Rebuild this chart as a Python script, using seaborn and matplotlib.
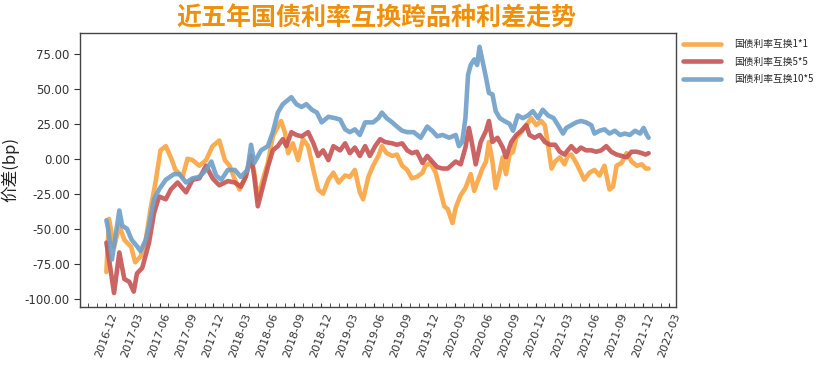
import pandas as pd
import seaborn as sns
import matplotlib.pyplot as plt
import matplotlib.dates as mdates
from matplotlib.ticker import FormatStrFormatter

# values (bp)
names = ['国债利率互换1*1', '国债利率互换5*5', '国债利率互换10*5']
colors = ['#F9A43F', '#C65353', '#6F9FC9']

orange_dates = ['2016-12-02', '2016-12-11', '2016-12-28',
                '2017-01-15', '2017-02-01', '2017-02-24', '2017-03-10', '2017-03-28', '2017-04-15', '2017-05-01',
                '2017-05-18', '2017-06-04', '2017-06-22', '2017-07-09', '2017-07-25', '2017-08-18', '2017-09-04',
                '2017-09-21', '2017-10-14', '2017-11-06', '2017-11-28', '2017-12-21',
                '2018-01-09', '2018-01-25', '2018-02-12', '2018-02-28', '2018-03-16', '2018-04-08', '2018-04-19',
                '2018-05-01', '2018-05-18', '2018-06-04', '2018-06-21', '2018-07-08', '2018-07-19', '2018-08-01',
                '2018-08-12', '2018-08-28', '2018-09-15', '2018-10-02', '2018-10-19', '2018-11-06', '2018-11-22',
                '2018-12-09', '2018-12-27',
                '2019-01-13', '2019-01-31', '2019-02-22', '2019-03-10', '2019-03-27', '2019-04-13', '2019-04-24',
                '2019-05-12', '2019-05-28', '2019-06-15', '2019-06-27', '2019-07-13', '2019-08-01', '2019-08-17',
                '2019-09-04', '2019-09-21', '2019-10-07', '2019-10-24', '2019-11-12', '2019-11-22', '2019-12-09',
                '2019-12-27',
                '2020-01-13', '2020-01-25', '2020-02-06', '2020-02-22', '2020-03-04', '2020-03-21', '2020-04-06',
                '2020-04-24', '2020-05-06', '2020-05-16', '2020-06-03', '2020-06-15', '2020-06-25', '2020-07-07',
                '2020-07-18', '2020-08-01', '2020-08-11', '2020-08-22', '2020-09-03', '2020-09-15', '2020-09-26',
                '2020-10-13', '2020-10-30', '2020-11-16', '2020-12-03', '2020-12-20',
                '2021-01-01', '2021-01-12', '2021-01-24', '2021-02-05', '2021-02-21', '2021-03-09', '2021-03-20',
                '2021-04-01', '2021-04-18', '2021-05-04', '2021-05-15', '2021-06-02', '2021-06-19', '2021-07-06',
                '2021-07-23', '2021-08-09', '2021-08-21', '2021-09-02', '2021-09-19', '2021-10-06', '2021-10-23',
                '2021-11-10', '2021-11-27', '2021-12-10', '2021-12-20']
orange_vals = [-81, -43, -63,
               -48, -58, -63, -74, -70, -58, -36, -17, 6, 9, 1, -8, -13, 0, -1, -5, -1, 9, 13,
               -1, -5, -15, -22, -15, 2, -10, -29, -15, -3, 16, 23, 27, 19, 4, 11, -1, 14, 9, -8, -22, -25, -15,
               -10, -17, -12, -13, -8, -24, -29, -13, -5, 2, 9, 4, 2, 3, -5, -8, -14, -13, -10, -5, -3, -10,
               -24, -34, -36, -46, -35, -26, -21, -11, -23, -17, -7, -2, 12, -2, -21, -9, 1, -11, 3, 5, 15,
               19, 24, 29, 24, 27,
               24, 10, -7, -2, 1, -4, 2, 3, -3, -10, -15, -10, -8, -12, -5, -22, -20, -5, -3, 4, -2, -5, -4,
               -7, -7]

red_dates = ['2016-12-02', '2016-12-11', '2016-12-28',
             '2017-01-15', '2017-02-01', '2017-02-18', '2017-03-05', '2017-03-16', '2017-04-03', '2017-04-26',
             '2017-05-13', '2017-05-30', '2017-06-22', '2017-07-09', '2017-08-01', '2017-08-30', '2017-09-21',
             '2017-10-14', '2017-11-06', '2017-11-28', '2017-12-21',
             '2018-01-19', '2018-02-12', '2018-03-04', '2018-03-21', '2018-04-08', '2018-04-19', '2018-05-01',
             '2018-05-18', '2018-06-04', '2018-06-21', '2018-07-08', '2018-07-25', '2018-08-06', '2018-08-23',
             '2018-09-09', '2018-09-27', '2018-10-19', '2018-11-06', '2018-11-22', '2018-12-09', '2018-12-27',
             '2019-01-13', '2019-02-05', '2019-02-22', '2019-03-10', '2019-03-27', '2019-04-13', '2019-05-01',
             '2019-05-17', '2019-06-04', '2019-06-21', '2019-07-07', '2019-08-01', '2019-08-17', '2019-09-04',
             '2019-09-21', '2019-10-07', '2019-10-24', '2019-11-12', '2019-11-28', '2019-12-15',
             '2020-01-01', '2020-01-19', '2020-02-06', '2020-02-22', '2020-03-04', '2020-03-21', '2020-04-06',
             '2020-04-18', '2020-05-01', '2020-05-11', '2020-05-28', '2020-06-15', '2020-06-25', '2020-07-07',
             '2020-07-24', '2020-08-11', '2020-08-22', '2020-09-09', '2020-09-26', '2020-10-13', '2020-10-30',
             '2020-11-10', '2020-11-27', '2020-12-15',
             '2021-01-01', '2021-01-18', '2021-02-05', '2021-02-21', '2021-03-09', '2021-03-20', '2021-04-01',
             '2021-04-18', '2021-05-04', '2021-05-21', '2021-06-08', '2021-06-25', '2021-07-12', '2021-07-29',
             '2021-08-15', '2021-09-02', '2021-09-19', '2021-10-06', '2021-10-23', '2021-11-10', '2021-11-27',
             '2021-12-10', '2021-12-20']
red_vals = [-60, -72, -96,
            -67, -86, -88, -95, -82, -78, -60, -39, -27, -29, -22, -17, -24, -15, -14, -5, -14, -19,
            -16, -17, -20, -13, 2, -13, -34, -20, -6, 6, 9, 14, 9, 19, 17, 16, 19, 11, 2, 6, -1,
            9, 6, 11, 4, 8, 2, 9, 2, 9, 14, 12, 11, 10, 11, 6, 4, 5, -3, 2, -2,
            -6, -7, -7, -4, -2, -4, 8, 22, 8, -4, 12, 20, 27, 12, 15, 8, 1, 12, 17, 20, 24, 17, 15, 17,
            12, 10, 10, 5, 3, 6, 9, 5, 8, 6, 6, 5, 6, 9, 5, 3, 2, 1, 5, 5, 4,
            3, 4]

blue_dates = ['2016-12-02', '2016-12-08', '2016-12-21',
              '2017-01-15', '2017-01-25', '2017-02-10', '2017-02-26', '2017-03-14', '2017-03-28', '2017-04-15',
              '2017-04-26', '2017-05-13', '2017-05-30', '2017-06-22', '2017-07-20', '2017-08-07', '2017-08-30',
              '2017-09-21', '2017-10-14', '2017-11-06', '2017-11-24', '2017-12-10', '2017-12-28',
              '2018-01-19', '2018-02-12', '2018-03-04', '2018-03-27', '2018-04-08', '2018-04-19', '2018-05-12',
              '2018-06-04', '2018-06-21', '2018-07-08', '2018-07-25', '2018-08-06', '2018-08-23', '2018-09-09',
              '2018-09-27', '2018-10-13', '2018-11-01', '2018-11-18', '2018-12-04', '2018-12-27',
              '2019-01-19', '2019-02-05', '2019-02-22', '2019-03-10', '2019-03-27', '2019-04-13', '2019-05-01',
              '2019-05-28', '2019-06-15', '2019-06-27', '2019-07-13', '2019-08-01', '2019-08-17', '2019-09-04',
              '2019-09-21', '2019-10-13', '2019-11-06', '2019-11-28', '2019-12-15',
              '2020-01-01', '2020-01-19', '2020-02-11', '2020-03-04', '2020-03-15', '2020-03-26', '2020-04-06',
              '2020-04-15', '2020-04-24', '2020-05-06', '2020-05-16', '2020-05-24', '2020-06-03', '2020-06-15',
              '2020-06-25', '2020-07-07', '2020-07-18', '2020-08-01', '2020-08-16', '2020-09-03', '2020-09-15',
              '2020-10-01', '2020-10-18', '2020-11-05', '2020-11-21', '2020-12-09', '2020-12-25',
              '2021-01-12', '2021-01-31', '2021-02-15', '2021-03-04', '2021-03-15', '2021-04-01', '2021-04-18',
              '2021-05-04', '2021-05-21', '2021-06-08', '2021-06-19', '2021-07-06', '2021-07-23', '2021-08-09',
              '2021-08-27', '2021-09-14', '2021-09-30', '2021-10-17', '2021-11-04', '2021-11-21', '2021-12-03',
              '2021-12-14', '2021-12-20']
blue_vals = [-44, -50, -72,
             -37, -48, -50, -58, -62, -66, -58, -48, -29, -22, -15, -11, -11, -17, -14, -13, -8, -2, -12, -15,
             -8, -8, -13, -8, 10, -3, 6, 9, 19, 33, 39, 41, 44, 39, 37, 39, 35, 33, 26, 30,
             29, 28, 21, 19, 21, 17, 26, 26, 29, 33, 29, 26, 23, 20, 19, 19, 15, 23, 20,
             16, 17, 15, 17, 9, 12, 29, 60, 67, 71, 67, 80, 70, 58, 47, 46, 34, 29, 27, 25, 20, 31, 29, 31,
             34, 29, 35,
             31, 29, 24, 18, 22, 24, 26, 27, 26, 24, 18, 20, 21, 18, 20, 17, 18, 17, 20, 18, 22,
             17, 15]

sns.set_style('ticks')
plt.rcParams['font.family'] = ['Noto Sans CJK SC', 'DejaVu Sans']
plt.rcParams['axes.unicode_minus'] = False

frames = []
for name, d, v in zip(names, [orange_dates, red_dates, blue_dates], [orange_vals, red_vals, blue_vals]):
    frames.append(pd.DataFrame({'date': pd.to_datetime(d), 'value': v, 'series': name}))
df = pd.concat(frames, ignore_index=True)

fig = plt.figure(figsize=(8.27, 3.69), dpi=100)
ax = fig.add_axes([0.097, 0.168, 0.72, 0.743])

sns.lineplot(data=df, x='date', y='value', hue='series', hue_order=names,
             palette=colors, linewidth=3.3, alpha=0.9, ax=ax)

ax.set_xlim(pd.Timestamp('2016-09-04'), pd.Timestamp('2022-03-22'))
ax.set_ylim(-106, 90)
ax.set_yticks(range(-100, 76, 25))
ax.yaxis.set_major_formatter(FormatStrFormatter('%.2f'))
ax.xaxis.set_major_locator(mdates.MonthLocator(bymonth=[3, 6, 9, 12]))
ax.xaxis.set_minor_locator(mdates.MonthLocator())
ax.xaxis.set_major_formatter(mdates.DateFormatter('%Y-%m'))

ax.tick_params(axis='x', which='both', direction='in', length=3, labelsize=8, colors='#333333')
ax.tick_params(axis='y', direction='out', length=4, labelsize=8.5, colors='#333333')
plt.setp(ax.get_xticklabels(), rotation=70)
for lab in ax.get_xticklabels() + ax.get_yticklabels():
    lab.set_fontfamily('DejaVu Sans')

for sp in ax.spines.values():
    sp.set_color('#444444')
    sp.set_linewidth(1.0)

ax.set_xlabel('')
ax.set_ylabel('价差(bp)', fontsize=12, color='#222222')

fig.text(0.455, 0.95, '近五年国债利率互换跨品种利差走势', ha='center', va='center',
         fontsize=18, fontweight='bold', color='#F0900A')

sns.move_legend(ax, 'upper left', bbox_to_anchor=(1.005, 0.99), title=None, frameon=False,
                fontsize=7, handlelength=4, handletextpad=1.3, labelspacing=0.75, borderaxespad=0)
for line in ax.get_legend().get_lines():
    line.set_linewidth(3.3)

fig.savefig('out.png', dpi=100)
